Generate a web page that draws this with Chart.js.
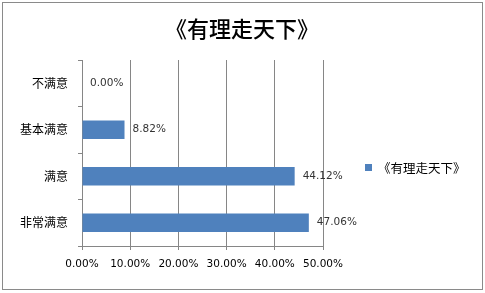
<!DOCTYPE html>
<html>
<head>
<meta charset="utf-8">
<script src="https://cdn.jsdelivr.net/npm/chart.js@4.4.0/dist/chart.umd.min.js"></script>
<style>
  html, body { margin: 0; padding: 0; background: #fff; }
  #wrap { width: 485px; height: 293px; }
</style>
</head>
<body>
<div id="wrap"><canvas id="barchart" width="485" height="293"></canvas></div>
<script>
// chart data
const chartTitle = "《有理走天下》";
const seriesName = "《有理走天下》";
const categories = ["不满意", "基本满意", "满意", "非常满意"];
const values = [0, 8.82, 44.12, 47.06];
const xMax = 50;
const xStep = 10;

const cjk = '"Noto Sans CJK SC", "Noto Sans", sans-serif';
const latin = '"DejaVu Sans", Verdana, sans-serif';
const gridGray = "#868686";

// outer frame, title, data labels, legend
const extras = {
    id: "extras",
    beforeDraw(chart) {
        const ctx = chart.ctx;
        ctx.save();
        ctx.fillStyle = "#fff";
        ctx.fillRect(0, 0, chart.width, chart.height);
        ctx.strokeStyle = "#8a8a8a";
        ctx.lineWidth = 1;
        ctx.strokeRect(2.5, 2.5, 480, 287);
        // title centred on the whole frame
        ctx.fillStyle = "#000";
        ctx.font = "500 22px " + cjk;
        ctx.textAlign = "center";
        ctx.textBaseline = "middle";
        ctx.fillText(chartTitle, 242, 29);
        ctx.restore();
    },
    afterDatasetsDraw(chart) {
        const ctx = chart.ctx;
        const meta = chart.getDatasetMeta(0);
        ctx.save();
        ctx.font = "10.5px " + latin;
        ctx.fillStyle = "#333";
        ctx.textBaseline = "middle";
        ctx.textAlign = "left";
        meta.data.forEach((bar, i) => {
            ctx.fillText(values[i].toFixed(2) + "%", bar.x + 8, bar.y);
        });
        // legend
        const ds = chart.data.datasets[0];
        ctx.fillStyle = ds.backgroundColor;
        ctx.fillRect(365, 164, 7, 7);
        ctx.fillStyle = "#000";
        ctx.font = "12.5px " + cjk;
        ctx.fillText(ds.label, 378, 168);
        ctx.restore();
    }
};

new Chart(document.getElementById("barchart"), {
    type: "bar",
    data: {
        labels: categories,
        datasets: [{
            label: seriesName,
            data: values,
            backgroundColor: "#4F81BD",
            categoryPercentage: 1.0,
            barPercentage: 0.4
        }]
    },
    options: {
        indexAxis: "y",
        responsive: false,
        animation: false,
        layout: { padding: { top: 60, left: 4, right: 162, bottom: 0 } },
        plugins: {
            legend: { display: false },
            tooltip: { enabled: false },
            title: { display: false }
        },
        scales: {
            x: {
                min: 0,
                max: xMax,
                ticks: {
                    stepSize: xStep,
                    color: "#000",
                    font: { family: latin, size: 10.5 },
                    padding: 8,
                    callback: v => v.toFixed(2) + "%"
                },
                grid: { color: gridGray, tickLength: 4, drawTicks: true },
                border: { color: gridGray },
                afterFit(scale) { scale.height = 47; }
            },
            y: {
                ticks: {
                    color: "#000",
                    font: { family: cjk, size: 12 },
                    padding: 10
                },
                grid: { offset: true, drawOnChartArea: false, color: gridGray, tickLength: 4 },
                border: { color: gridGray },
                afterFit(scale) { scale.width = 78; }
            }
        }
    },
    plugins: [extras]
});
</script>
</body>
</html>
